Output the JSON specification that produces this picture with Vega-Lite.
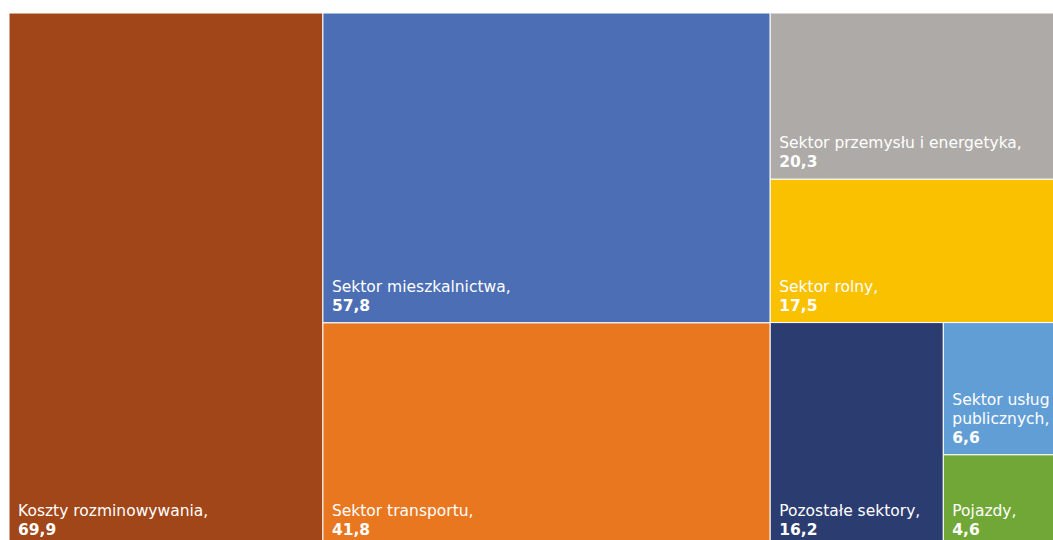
{
  "$schema": "https://vega.github.io/schema/vega-lite/v6.json",
  "width": 1044,
  "height": 527,
  "autosize": {"type": "none"},
  "padding": {"left": 9, "top": 13, "right": 0, "bottom": 0},
  "background": "white",
  "config": {
    "view": {"stroke": null},
    "locale": {"number": {"decimal": ",", "thousands": " ", "grouping": [3], "currency": ["", " zł"]}}
  },
  "data": {
    "values": [
      {"name": "Koszty rozminowywania", "label": "Koszty rozminowywania,", "labelTop": "", "value": 69.9, "col": 1, "block": 1, "sub": 1},
      {"name": "Sektor mieszkalnictwa", "label": "Sektor mieszkalnictwa,", "labelTop": "", "value": 57.8, "col": 2, "block": 1, "sub": 1},
      {"name": "Sektor transportu", "label": "Sektor transportu,", "labelTop": "", "value": 41.8, "col": 2, "block": 2, "sub": 1},
      {"name": "Sektor przemysłu i energetyka", "label": "Sektor przemysłu i energetyka,", "labelTop": "", "value": 20.3, "col": 3, "block": 1, "sub": 1},
      {"name": "Sektor rolny", "label": "Sektor rolny,", "labelTop": "", "value": 17.5, "col": 3, "block": 2, "sub": 1},
      {"name": "Pozostałe sektory", "label": "Pozostałe sektory,", "labelTop": "", "value": 16.2, "col": 3, "block": 3, "sub": 1},
      {"name": "Sektor usług publicznych", "label": "publicznych,", "labelTop": "Sektor usług", "value": 6.6, "col": 3, "block": 3, "sub": 2},
      {"name": "Pojazdy", "label": "Pojazdy,", "labelTop": "", "value": 4.6, "col": 3, "block": 3, "sub": 2}
    ]
  },
  "transform": [
    {"window": [{"op": "sum", "field": "value", "as": "cumAll"}],
     "sort": [{"field": "col"}, {"field": "block"}, {"field": "sub"}, {"field": "value", "order": "descending"}],
     "frame": [null, 0]},
    {"joinaggregate": [{"op": "sum", "field": "value", "as": "colSum"}, {"op": "max", "field": "cumAll", "as": "colEnd"}], "groupby": ["col"]},
    {"joinaggregate": [{"op": "sum", "field": "value", "as": "blockSum"}, {"op": "max", "field": "cumAll", "as": "blockEnd"}], "groupby": ["col", "block"]},
    {"joinaggregate": [{"op": "sum", "field": "value", "as": "subSum"}, {"op": "max", "field": "cumAll", "as": "subEnd"}], "groupby": ["col", "block", "sub"]},
    {"calculate": "datum.colEnd - datum.colSum", "as": "colStart"},
    {"calculate": "datum.blockEnd - datum.blockSum", "as": "blockStart"},
    {"calculate": "datum.subEnd - datum.subSum", "as": "subStart"},
    {"calculate": "(datum.blockStart - datum.colStart) / datum.colSum", "as": "by0"},
    {"calculate": "(datum.blockEnd - datum.colStart) / datum.colSum", "as": "by1"},
    {"calculate": "datum.colStart + datum.colSum * (datum.subStart - datum.blockStart) / datum.blockSum", "as": "x0"},
    {"calculate": "datum.colStart + datum.colSum * (datum.subEnd - datum.blockStart) / datum.blockSum", "as": "x1"},
    {"calculate": "datum.by0 + (datum.by1 - datum.by0) * (datum.cumAll - datum.value - datum.subStart) / datum.subSum", "as": "y0"},
    {"calculate": "datum.by0 + (datum.by1 - datum.by0) * (datum.cumAll - datum.subStart) / datum.subSum", "as": "y1"}
  ],
  "encoding": {
    "x": {"field": "x0", "type": "quantitative", "scale": {"zero": true, "nice": false, "range": [0, 1054]}, "axis": null},
    "y": {"field": "y1", "type": "quantitative", "scale": {"domain": [0, 1], "nice": false, "range": [0, 534]}, "axis": null}
  },
  "layer": [
    {
      "mark": {"type": "rect", "clip": true, "stroke": "white", "strokeWidth": 1},
      "encoding": {
        "x2": {"field": "x1"},
        "y": {"field": "y0", "type": "quantitative", "scale": {"domain": [0, 1], "nice": false, "range": [0, 534]}, "axis": null},
        "y2": {"field": "y1"},
        "color": {
          "field": "name", "type": "nominal", "legend": null,
          "scale": {
            "domain": ["Koszty rozminowywania", "Sektor mieszkalnictwa", "Sektor transportu", "Sektor przemysłu i energetyka", "Sektor rolny", "Pozostałe sektory", "Sektor usług publicznych", "Pojazdy"],
            "range": ["#A14618", "#4C6EB4", "#E8771F", "#AEAAA7", "#FAC100", "#2B3C70", "#629ED6", "#70A736"]
          }
        }
      }
    },
    {
      "mark": {"type": "text", "align": "left", "baseline": "alphabetic", "dx": 9, "dy": -50, "fontSize": 15.5, "font": "DejaVu Sans", "color": "white"},
      "encoding": {"text": {"field": "labelTop"}}
    },
    {
      "mark": {"type": "text", "align": "left", "baseline": "alphabetic", "dx": 9, "dy": -31, "fontSize": 15.5, "font": "DejaVu Sans", "color": "white"},
      "encoding": {"text": {"field": "label"}}
    },
    {
      "mark": {"type": "text", "align": "left", "baseline": "alphabetic", "dx": 9, "dy": -12, "fontSize": 15.5, "font": "DejaVu Sans", "fontWeight": "bold", "color": "white"},
      "encoding": {"text": {"field": "value", "type": "quantitative", "format": ".1f"}}
    }
  ]
}
